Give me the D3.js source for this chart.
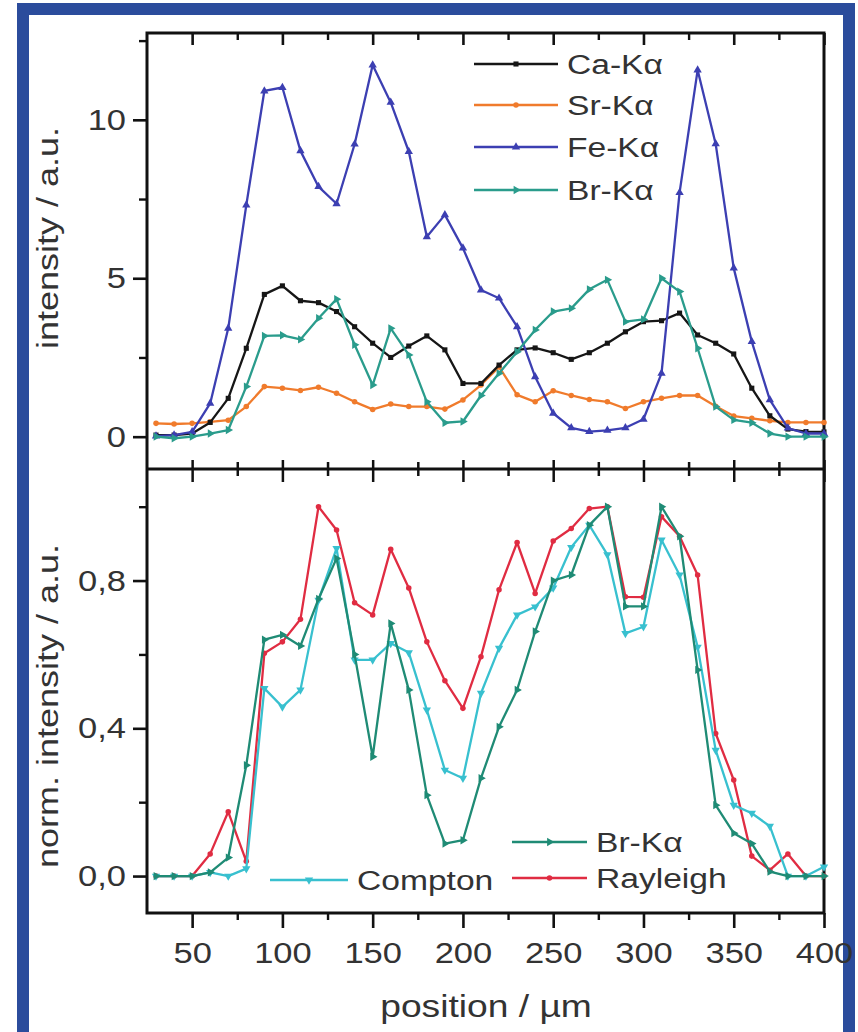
<!DOCTYPE html>
<html>
<head>
<meta charset="utf-8">
<script src="https://cdn.jsdelivr.net/npm/d3@7"></script>
<style>
  html, body { margin: 0; padding: 0; background: #ffffff; }
  svg { display: block; }
  text { font-family: "Liberation Sans", Arial, sans-serif; fill: #333333; }
</style>
</head>
<body>
<svg id="chart" width="858" height="1032"></svg>
<script>
// Scan positions along the line profile (µm)
const positions = [30, 40, 50, 60, 70, 80, 90, 100, 110, 120, 130, 140, 150, 160, 170, 180, 190, 200, 210,
  220, 230, 240, 250, 260, 270, 280, 290, 300, 310, 320, 330, 340, 350, 360, 370, 380, 390, 400];

// Upper panel: fluorescence intensities (a.u.)
const caKa = [0.05, 0.05, 0.1, 0.45, 1.21, 2.79, 4.49, 4.76, 4.29, 4.23, 3.95, 3.47, 2.95, 2.5, 2.86, 3.18, 2.74,
  1.68, 1.68, 2.26, 2.74, 2.8, 2.65, 2.44, 2.65, 2.95, 3.31, 3.63, 3.66, 3.9, 3.21, 2.95, 2.61, 1.53, 0.66, 0.24, 0.16, 0.15];
const srKa = [0.42, 0.4, 0.42, 0.47, 0.52, 0.95, 1.58, 1.53, 1.46, 1.56, 1.37, 1.1, 0.86, 1.03, 0.95, 0.95, 0.87,
  1.16, 1.63, 2.2, 1.32, 1.1, 1.45, 1.3, 1.17, 1.1, 0.89, 1.1, 1.21, 1.3, 1.3, 0.96, 0.65, 0.58, 0.5, 0.45, 0.45, 0.45];
const feKa = [0.02, 0.05, 0.15, 1.05, 3.42, 7.31, 10.91, 11.02, 9.02, 7.89, 7.35, 9.23, 11.73, 10.55, 9.0, 6.31, 7.0,
  5.95, 4.63, 4.37, 3.47, 1.89, 0.74, 0.28, 0.16, 0.2, 0.28, 0.55, 2.0, 7.7, 11.57, 9.24, 5.32, 3.0, 1.16, 0.27, 0.1, 0.1];
const brKa = [0.0, -0.05, 0.0, 0.1, 0.21, 1.58, 3.18, 3.2, 3.07, 3.74, 4.34, 2.9, 1.63, 3.42, 2.58, 1.1, 0.44,
  0.48, 1.3, 2.0, 2.68, 3.37, 3.95, 4.05, 4.65, 4.95, 3.63, 3.7, 5.0, 4.58, 2.79, 0.95, 0.53, 0.44, 0.1, 0.0, 0.0, 0.0];

// Lower panel: normalised intensities
const brNorm = [0, 0, 0, 0.01, 0.05, 0.30, 0.64, 0.653, 0.623, 0.75, 0.86, 0.6, 0.323, 0.684, 0.504, 0.219, 0.088,
  0.097, 0.265, 0.404, 0.504, 0.662, 0.80, 0.815, 0.95, 1.0, 0.73, 0.73, 1.0, 0.92, 0.558, 0.192, 0.116, 0.088, 0.012, 0, 0, 0];
const comptonNorm = [0, 0, 0, 0.01, 0.0, 0.02, 0.508, 0.458, 0.504, 0.747, 0.887, 0.585, 0.585, 0.63, 0.605, 0.45, 0.287,
  0.265, 0.495, 0.617, 0.707, 0.729, 0.78, 0.89, 0.95, 0.87, 0.657, 0.675, 0.91, 0.815, 0.62, 0.341, 0.192, 0.17, 0.135, 0, 0, 0.025];
const rayleighNorm = [0, 0, 0, 0.06, 0.174, 0.04, 0.603, 0.634, 0.695, 1.0, 0.937, 0.74, 0.707, 0.885, 0.78, 0.634, 0.529,
  0.454, 0.594, 0.775, 0.903, 0.765, 0.907, 0.941, 0.995, 1.0, 0.756, 0.755, 0.973, 0.92, 0.815, 0.386, 0.26, 0.054, 0.016, 0.06, 0, 0];

// Axis ticks
const xMajorTicks = [50, 100, 150, 200, 250, 300, 350, 400];
const xMinorTicks = [75, 125, 175, 225, 275, 325, 375];
const yTopMajor = [0, 5, 10];
const yTopMinor = [2.5, 7.5, 12.5];
const yBotMajor = [0, 0.4, 0.8];
const yBotLabels = ["0,0", "0,4", "0,8"];
const yBotMinor = [0.2, 0.6, 1.0];

const svg = d3.select("#chart");

// Frame around the figure
svg.append("rect").attr("x", 0).attr("y", 0).attr("width", 858).attr("height", 1032).attr("fill", "#ffffff");
svg.append("rect")
  .attr("x", 23).attr("y", 9).attr("width", 826).attr("height", 1030)
  .attr("fill", "none").attr("stroke", "#2b4c9c").attr("stroke-width", 12);

const plotL = 147, plotR = 824, plotT = 33, plotM = 469, plotB = 913;
const x = d3.scaleLinear().domain([25, 400]).range([plotL, plotR]);
const yTop = d3.scaleLinear().domain([-1.02, 12.74]).range([plotM, plotT]);
const yBot = d3.scaleLinear().domain([-0.1, 1.102]).range([plotB, plotM]);

// Horizontally widened text, anchored at (px, py)
function wideText(parent, px, py, str, size, sx, anchor, rot) {
  return parent.append("text")
    .attr("transform", `translate(${px},${py}) rotate(${rot || 0}) scale(${sx},1)`)
    .attr("text-anchor", anchor || "start")
    .style("font-size", size + "px")
    .text(str);
}

// Axis styling: strip domain paths, thicken ticks, widen labels
function styleAxis(g, sw) {
  g.select(".domain").remove();
  g.selectAll(".tick line").attr("stroke", "#111").attr("stroke-width", sw);
}
const tickStretch = 1.15;
function widenLabels(g) {
  g.selectAll(".tick text").each(function () {
    const t = d3.select(this);
    const tx = +t.attr("x") || 0;
    t.attr("x", tx / tickStretch).attr("transform", `scale(${tickStretch},1)`)
      .style("font-size", "30px").style("fill", "#333");
  });
}

const axes = svg.append("g");

// Bottom axis of the lower panel (outward ticks with labels)
const gxb = axes.append("g").attr("transform", `translate(0,${plotB})`)
  .call(d3.axisBottom(x).tickValues(xMajorTicks).tickSize(15).tickPadding(14).tickFormat(d3.format("d")));
styleAxis(gxb, 2.6);
widenLabels(gxb);
const gxbm = axes.append("g").attr("transform", `translate(0,${plotB})`)
  .call(d3.axisBottom(x).tickValues(xMinorTicks).tickSize(7).tickFormat(""));
styleAxis(gxbm, 2.4);

// Top axis of the upper panel (inward ticks)
const gxt = axes.append("g").attr("transform", `translate(0,${plotT})`)
  .call(d3.axisBottom(x).tickValues(xMajorTicks).tickSize(12).tickFormat(""));
styleAxis(gxt, 2.6);
const gxtm = axes.append("g").attr("transform", `translate(0,${plotT})`)
  .call(d3.axisBottom(x).tickValues(xMinorTicks).tickSize(7).tickFormat(""));
styleAxis(gxtm, 2.4);

// Shared divider between panels (ticks cross the line)
[[d3.axisTop, 9, xMajorTicks], [d3.axisBottom, 13, xMajorTicks], [d3.axisTop, 7, xMinorTicks], [d3.axisBottom, 7, xMinorTicks]]
  .forEach(([fn, len, vals]) => {
    const g = axes.append("g").attr("transform", `translate(0,${plotM})`)
      .call(fn(x).tickValues(vals).tickSize(len).tickFormat(""));
    styleAxis(g, 2.5);
  });

// Left axis, upper panel
const gyt = axes.append("g").attr("transform", `translate(${plotL},0)`)
  .call(d3.axisLeft(yTop).tickValues(yTopMajor).tickSize(14).tickPadding(7).tickFormat(d3.format("d")));
styleAxis(gyt, 2.6);
widenLabels(gyt);
const gytm = axes.append("g").attr("transform", `translate(${plotL},0)`)
  .call(d3.axisLeft(yTop).tickValues(yTopMinor).tickSize(8).tickFormat(""));
styleAxis(gytm, 2.4);

// Left axis, lower panel
const gyb = axes.append("g").attr("transform", `translate(${plotL},0)`)
  .call(d3.axisLeft(yBot).tickValues(yBotMajor).tickSize(14).tickPadding(7)
    .tickFormat((d, i) => yBotLabels[i]));
styleAxis(gyb, 2.6);
widenLabels(gyb);
const gybm = axes.append("g").attr("transform", `translate(${plotL},0)`)
  .call(d3.axisLeft(yBot).tickValues(yBotMinor).tickSize(8).tickFormat(""));
styleAxis(gybm, 2.4);

// Panel frames
const frame = svg.append("g").attr("fill", "none").attr("stroke", "#111").attr("stroke-width", 3);
frame.append("rect").attr("x", plotL).attr("y", plotT).attr("width", plotR - plotL).attr("height", plotB - plotT);
frame.append("line").attr("x1", plotL).attr("x2", plotR).attr("y1", plotM).attr("y2", plotM);

// Series drawing
const sym = {
  square: d3.symbol().type(d3.symbolSquare).size(26),
  circle: d3.symbol().type(d3.symbolCircle).size(24),
  up: d3.symbol().type(d3.symbolTriangle).size(30),
  right: d3.symbol().type(d3.symbolTriangle).size(30),
  down: d3.symbol().type(d3.symbolTriangle).size(30)
};
const symRot = { square: 0, circle: 0, up: 0, right: 90, down: 180 };

function drawSeries(panel, yScale, values, color, marker) {
  const pts = positions.map((p, i) => [p, values[i]]);
  const g = panel.append("g");
  g.append("path")
    .datum(pts)
    .attr("fill", "none").attr("stroke", color).attr("stroke-width", 2.3).attr("stroke-linejoin", "round")
    .attr("d", d3.line().x(d => x(d[0])).y(d => yScale(d[1])));
  g.selectAll("path.m").data(pts).join("path").attr("class", "m")
    .attr("transform", d => `translate(${x(d[0])},${yScale(d[1])}) rotate(${symRot[marker]})`)
    .attr("d", sym[marker]).attr("fill", color);
}

const upper = svg.append("g");
drawSeries(upper, yTop, srKa, "#f07b2c", "circle");
drawSeries(upper, yTop, caKa, "#161616", "square");
drawSeries(upper, yTop, feKa, "#3c3fb2", "up");
drawSeries(upper, yTop, brKa, "#2a9c8c", "right");

const lower = svg.append("g");
drawSeries(lower, yBot, rayleighNorm, "#e02c42", "circle");
drawSeries(lower, yBot, comptonNorm, "#38c0cf", "down");
drawSeries(lower, yBot, brNorm, "#1f8b75", "right");

// Legends
function legendRow(parent, x1, x2, yRow, color, marker, label) {
  parent.append("line").attr("x1", x1).attr("x2", x2).attr("y1", yRow).attr("y2", yRow)
    .attr("stroke", color).attr("stroke-width", 2.6);
  parent.append("path").attr("d", sym[marker])
    .attr("transform", `translate(${(x1 + x2) / 2},${yRow}) rotate(${symRot[marker]})`)
    .attr("fill", color);
  wideText(parent, x2 + 9, yRow + 10, label, 28, 1.2, "start");
}
const legTop = svg.append("g");
legendRow(legTop, 474, 558, 64, "#161616", "square", "Ca-K\u03b1");
legendRow(legTop, 474, 558, 105, "#f07b2c", "circle", "Sr-K\u03b1");
legendRow(legTop, 474, 558, 147, "#3c3fb2", "up", "Fe-K\u03b1");
legendRow(legTop, 474, 558, 190, "#2a9c8c", "right", "Br-K\u03b1");

const legBot = svg.append("g");
legendRow(legBot, 512, 587, 842, "#1f8b75", "right", "Br-K\u03b1");
legendRow(legBot, 270, 348, 880, "#38c0cf", "down", "Compton");
legendRow(legBot, 512, 587, 878, "#e02c42", "circle", "Rayleigh");

// Axis titles
wideText(svg, 486, 1017, "position / \u00b5m", 31, 1.2, "middle");
wideText(svg, 58, 238, "intensity / a.u.", 30, 1.2, "middle", -90);
wideText(svg, 58, 706, "norm. intensity / a.u.", 30, 1.2, "middle", -90);
</script>
</body>
</html>
